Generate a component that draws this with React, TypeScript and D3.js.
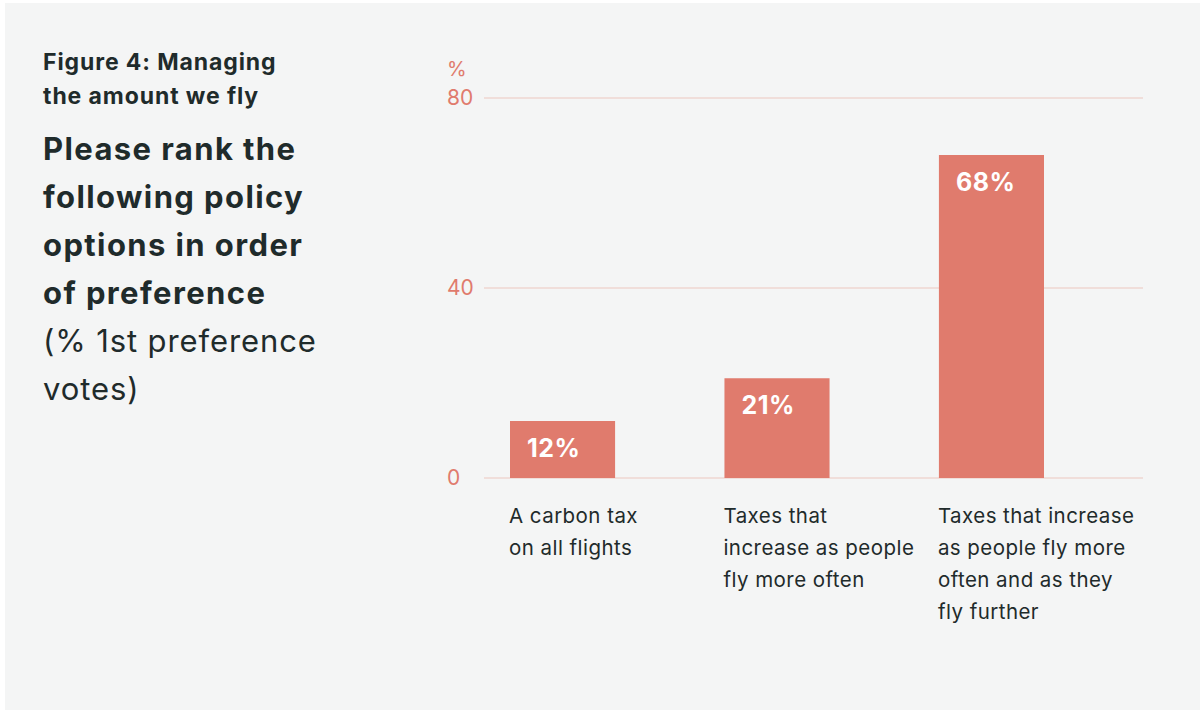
import * as d3 from 'd3';

const categories = ['carbon', 'frequency', 'frequencyDistance'];
const values = [12, 21, 68];
const categoryLines = [
  ['A carbon tax', 'on all flights'],
  ['Taxes that', 'increase as people', 'fly more often'],
  ['Taxes that increase', 'as people fly more', 'often and as they', 'fly further'],
];
const yTicks = [0, 40, 80];

const figureLines = ['Figure 4: Managing', 'the amount we fly'];
const questionLines = ['Please rank the', 'following policy', 'options in order', 'of preference'];
const noteLines = ['(% 1st preference', 'votes)'];

const W = 1200;
const H = 715;
const font = 'Inter, "Noto Sans", sans-serif';
const dark = '#1f2b2b';
const red = '#e07b6d';
const bg = '#f4f5f5';

export default function App() {
  const y = d3.scaleLinear().domain([0, 80]).range([478, 98]);
  const x = d3.scaleBand<string>()
    .domain(categories)
    .range([510, 1044])
    .paddingInner(0.51)
    .paddingOuter(0);

  const gridX0 = 484;
  const gridX1 = 1143;

  return (
    <svg width={W} height={H} style={{ position: 'absolute', left: 0, top: 0 }} fontFamily={font}>
      <rect x={0} y={0} width={W} height={H} fill="#ffffff" />
      <rect x={5} y={3} width={W - 5} height={707} fill={bg} />

      {/* heading block */}
      {figureLines.map((t, i) => (
        <text key={t} x={43} y={70 + i * 34} fontSize={23} fontWeight={700} letterSpacing={0.9} fill={dark}>{t}</text>
      ))}
      {questionLines.map((t, i) => (
        <text key={t} x={43} y={160 + i * 48} fontSize={31} fontWeight={700} letterSpacing={1.4} fill={dark}>{t}</text>
      ))}
      {noteLines.map((t, i) => (
        <text key={t} x={43} y={352 + i * 48} fontSize={31} fontWeight={400} letterSpacing={0.9} fill={dark}>{t}</text>
      ))}

      {/* y axis */}
      <text x={447} y={76} fontSize={20} fill={red}>%</text>
      {yTicks.map(t => (
        <g key={t}>
          <line x1={gridX0} x2={gridX1} y1={y(t)} y2={y(t)} stroke="#ecc7bf" strokeWidth={1} />
          <text x={447} y={y(t) + 7} fontSize={21} fill={red}>{t}</text>
        </g>
      ))}

      {/* bars */}
      {categories.map((c, i) => {
        const bx = x(c)!;
        const by = y(values[i]);
        return (
          <g key={c}>
            <rect x={bx} y={by} width={x.bandwidth()} height={y(0) - by} fill={red} />
            <text x={bx + 17} y={by + 36} fontSize={25} fontWeight={700} letterSpacing={0.5} fill="#ffffff">{values[i]}%</text>
            {categoryLines[i].map((t, j) => (
              <text key={t} x={bx - 1} y={523 + j * 32} fontSize={20.5} letterSpacing={0.45} fill={dark}>{t}</text>
            ))}
          </g>
        );
      })}
    </svg>
  );
}
